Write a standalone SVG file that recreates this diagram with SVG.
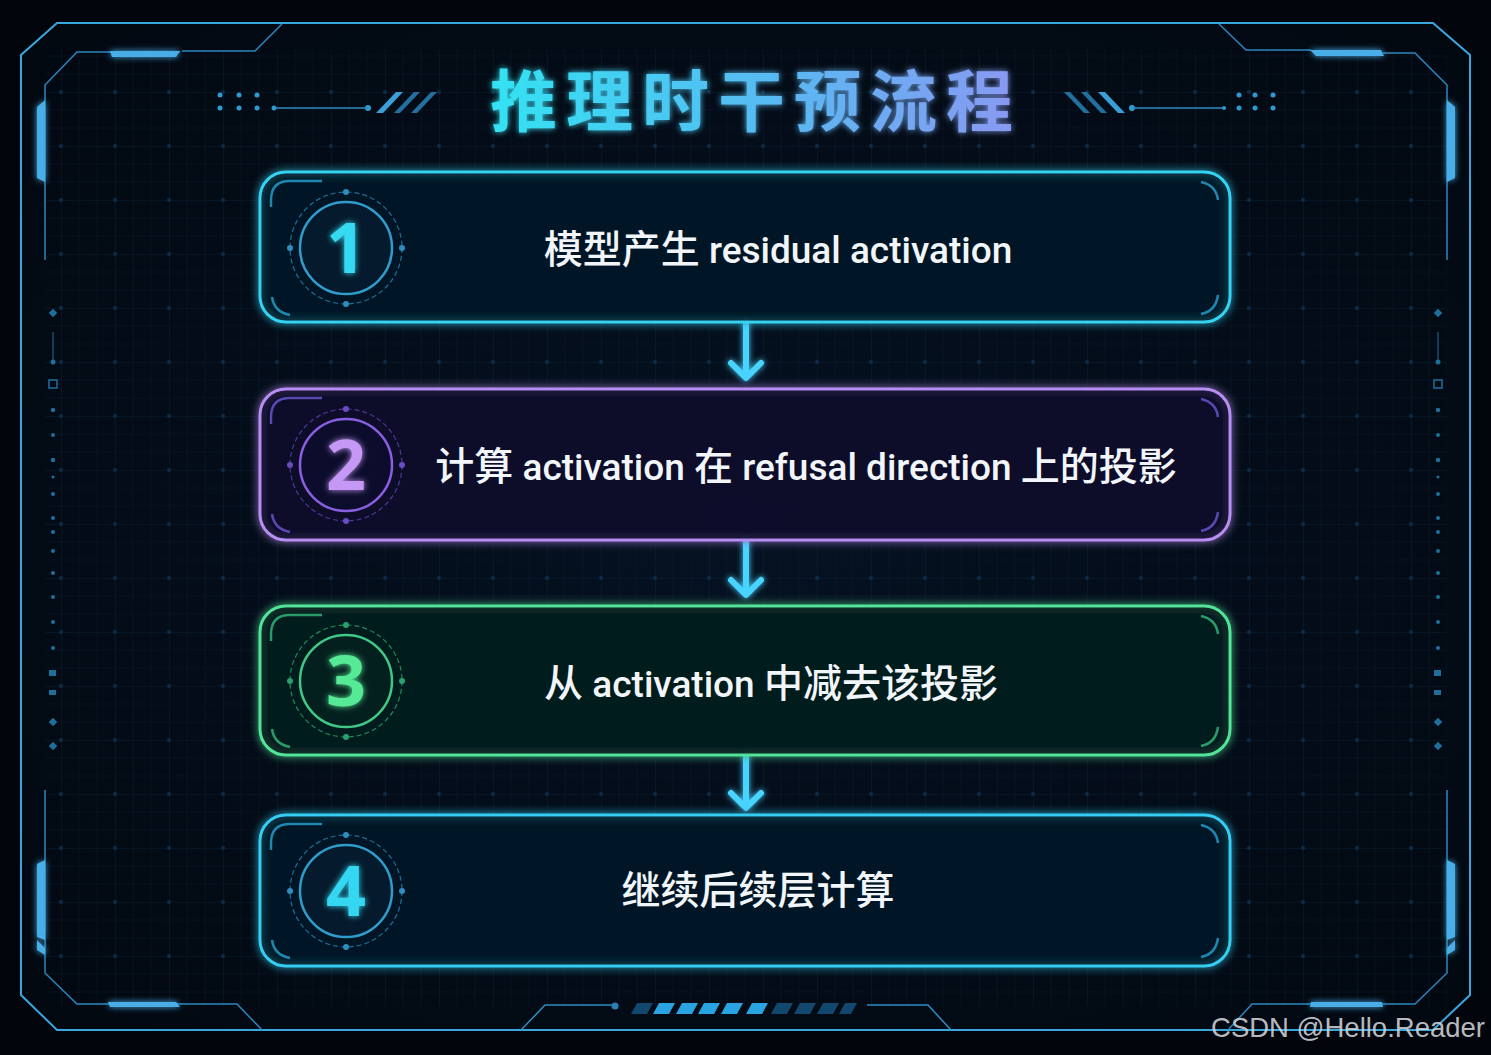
<svg xmlns="http://www.w3.org/2000/svg" width="1491" height="1055" viewBox="0 0 1491 1055">
<defs>
<style>
.frame{fill:none;stroke:#3aa6de;stroke-width:2}
.frame2{fill:none;stroke:#2b86bf;stroke-width:1.5}
.bar{fill:#4aaee8}
.deco{fill:#2f9bd0}
.decoline{stroke:#2f8cc0;stroke-width:1.5;fill:none}
.ntext{font-family:"Roboto","Noto Sans CJK SC",sans-serif;font-size:37px;font-weight:500;fill:#f2f6fa;text-anchor:middle}
.cj{font-family:"Noto Sans CJK SC",sans-serif;font-size:39px;font-weight:500}
.num{font-family:"Noto Sans","Liberation Sans",sans-serif;font-size:70px;font-weight:700;text-anchor:middle}
.arrow{fill:none;stroke:#48d4ff;stroke-width:6;stroke-linecap:round;stroke-linejoin:round}
.sdot{fill:#1f6f9c}
</style>
<linearGradient id="title" x1="0" x2="1" y1="0" y2="0">
<stop offset="0" stop-color="#33e2f2"/><stop offset="0.55" stop-color="#5ab8f2"/><stop offset="1" stop-color="#8a98f2"/>
</linearGradient>
<radialGradient id="bg" cx="0.5" cy="0.5" r="0.7">
<stop offset="0" stop-color="#051222"/><stop offset="1" stop-color="#020810"/>
</radialGradient>
<pattern id="grid" x="7" y="38" width="54" height="54" patternUnits="userSpaceOnUse">
<path d="M0 0H54M0 0V54" stroke="#0c2338" stroke-width="1" fill="none"/>
<path d="M0 18H54M0 36H54M18 0V54M36 0V54" stroke="#08182a" stroke-width="0.6" fill="none"/>
<circle cx="0" cy="0" r="2" fill="#0f3050"/><circle cx="54" cy="0" r="2" fill="#0f3050"/><circle cx="0" cy="54" r="2" fill="#0f3050"/><circle cx="54" cy="54" r="2" fill="#0f3050"/>
</pattern>
<filter id="glow" x="-10%" y="-30%" width="120%" height="160%">
<feGaussianBlur stdDeviation="4" result="b"/>
<feMerge><feMergeNode in="b"/><feMergeNode in="SourceGraphic"/></feMerge>
</filter>
<filter id="glowS" x="-50%" y="-50%" width="200%" height="200%">
<feGaussianBlur stdDeviation="3" result="b"/>
<feMerge><feMergeNode in="b"/><feMergeNode in="SourceGraphic"/></feMerge>
</filter>
</defs>

<rect width="1491" height="1055" fill="#02060c"/>
<path d="M57 23H1433L1470 55V995L1433 1030H57L21 995V55Z" fill="url(#bg)"/>
<rect x="45" y="50" width="1402" height="956" fill="url(#grid)" opacity="0.85"/>

<g id="frame">
<path class="frame" d="M57 23H1433L1470 55V995L1433 1030H57L21 995V55Z"/>
<path class="frame2" d="M45 260V85L77 52H180M182 51H255L282 24"/>
<path class="frame2" d="M1447 260V85L1415 53H1383M1311 50H1246L1219 24"/>
<path class="frame2" d="M45 790V973L77 1004H237L262 1030"/>
<path class="frame2" d="M1447 790V973L1415 1004H1252L1228 1030"/>
<g filter="url(#glowS)">
<path class="bar" d="M110 51H180L176 57H112Z"/>
<path class="bar" d="M1310 50H1381L1384 56H1316Z"/>
<path class="bar" d="M108 1002H176L180 1007H110Z"/>
<path class="bar" d="M1311 1002H1382L1383 1007H1310Z"/>
<path class="bar" d="M45 100L37 107V178L45 182Z"/>
<path class="bar" d="M1447 100L1455 107V178L1447 182Z"/>
<path class="bar" d="M45 860L37 864V937L45 940Z"/>
<path class="bar" d="M37 940L45 948V955L37 950Z"/>
<path class="bar" d="M1447 860L1455 864V937L1447 940Z"/>
<path class="bar" d="M1455 940L1447 948V955L1455 950Z"/>
</g>
</g>

<g id="title-deco">
<g class="deco">
<circle cx="220" cy="95" r="2.5"/><circle cx="239" cy="95" r="2.5"/><circle cx="257" cy="95" r="2.5"/>
<circle cx="220" cy="108" r="2.5"/><circle cx="239" cy="108" r="2.5"/><circle cx="257" cy="108" r="2.5"/>
<circle cx="274" cy="108" r="2.5"/><circle cx="368" cy="108" r="3"/>
<circle cx="1239" cy="95" r="2.5"/><circle cx="1255" cy="95" r="2.5"/><circle cx="1273" cy="95" r="2.5"/>
<circle cx="1239" cy="108" r="2.5"/><circle cx="1255" cy="108" r="2.5"/><circle cx="1273" cy="108" r="2.5"/>
<circle cx="1132" cy="108" r="3"/><circle cx="1224" cy="108" r="2"/>
</g>
<path class="decoline" d="M274 108H368M1132 108H1224"/>
<path d="M376 113L396 92H403L383 113Z" fill="#3a9fd8"/>
<path d="M394 113L414 92H420L400 113Z" fill="#236f9e"/>
<path d="M411 113L431 92H437L417 113Z" fill="#236f9e"/>
<path d="M1125 113L1105 92H1098L1118 113Z" fill="#3a9fd8"/>
<path d="M1107 113L1087 92H1081L1101 113Z" fill="#236f9e"/>
<path d="M1090 113L1070 92H1064L1084 113Z" fill="#236f9e"/>
</g>

<g id="title">
<text x="756" y="126" font-family="Noto Sans CJK SC,sans-serif" font-size="67" font-weight="700" letter-spacing="9" text-anchor="middle" fill="url(#title)" filter="url(#glowS)">推理时干预流程</text>
</g>

<g id="side-dots">
<g class="sdot">
<rect x="50" y="310" width="6" height="6" transform="rotate(45 53 313)"/>
<rect x="52.5" y="332" width="1" height="29"/>
<circle cx="53" cy="362" r="2.5"/>
<rect x="49" y="380" width="8" height="8" fill="none" stroke="#1f6f9c" stroke-width="1.5"/>
<circle cx="53" cy="410" r="2.2"/><circle cx="53" cy="435" r="2"/><circle cx="53" cy="460" r="2.2"/><circle cx="53" cy="477" r="1.5"/><circle cx="53" cy="494" r="2"/><circle cx="53" cy="518" r="2"/><circle cx="53" cy="532" r="2"/><circle cx="53" cy="551" r="2"/><circle cx="53" cy="573" r="2"/><circle cx="53" cy="597" r="2"/><circle cx="53" cy="622" r="2"/><circle cx="53" cy="648" r="2"/>
<rect x="49" y="670" width="7" height="6"/>
<rect x="49" y="690" width="7" height="5"/>
<rect x="50" y="719" width="6" height="6" transform="rotate(45 53 722)"/>
<rect x="50" y="743" width="6" height="6" transform="rotate(45 53 746)"/>
<rect x="1435" y="310" width="6" height="6" transform="rotate(45 1438 313)"/>
<rect x="1437.5" y="332" width="1" height="29"/>
<circle cx="1438" cy="362" r="2.5"/>
<rect x="1434" y="380" width="8" height="8" fill="none" stroke="#1f6f9c" stroke-width="1.5"/>
<circle cx="1438" cy="410" r="2.2"/><circle cx="1438" cy="435" r="2"/><circle cx="1438" cy="460" r="2.2"/><circle cx="1438" cy="477" r="1.5"/><circle cx="1438" cy="494" r="2"/><circle cx="1438" cy="518" r="2"/><circle cx="1438" cy="532" r="2"/><circle cx="1438" cy="551" r="2"/><circle cx="1438" cy="573" r="2"/><circle cx="1438" cy="597" r="2"/><circle cx="1438" cy="622" r="2"/><circle cx="1438" cy="648" r="2"/>
<rect x="1434" y="670" width="7" height="6"/>
<rect x="1434" y="690" width="7" height="5"/>
<rect x="1435" y="719" width="6" height="6" transform="rotate(45 1438 722)"/>
<rect x="1435" y="743" width="6" height="6" transform="rotate(45 1438 746)"/>
</g>
</g>

<g id="bottom-deco">
<path class="decoline" d="M521 1030L545 1005H615M867 1005H928L951 1030"/>
<circle cx="615" cy="1006" r="3.5" fill="#2a7fb5"/>
<path d="M637 1003H653L647 1014H631Z" fill="#12486e"/>
<path d="M659 1003H675L669 1014H653Z" fill="#2aa4e0"/>
<path d="M682 1003H698L692 1014H676Z" fill="#2aa4e0"/>
<path d="M704 1003H720L714 1014H698Z" fill="#2aa4e0"/>
<path d="M727 1003H743L737 1014H721Z" fill="#2aa4e0"/>
<path d="M752 1003H768L762 1014H746Z" fill="#2aa4e0"/>
<path d="M777 1003H793L787 1014H771Z" fill="#12486e"/>
<path d="M800 1003H816L810 1014H794Z" fill="#12486e"/>
<path d="M823 1003H839L833 1014H817Z" fill="#12486e"/>
<path d="M845 1003H857L851 1014H839Z" fill="#12486e"/>
</g>

<g id="connectors" filter="url(#glowS)">
<path class="arrow" d="M746 321V377M731 363L746 378L761 363"/>
<path class="arrow" d="M746 538V594M731 580L746 595L761 580"/>
<path class="arrow" d="M746 751V807M731 793L746 808L761 793"/>
</g>

<g id="node1">
<rect x="260" y="172" width="970" height="150" rx="26" fill="#041626" fill-opacity="0.85" stroke="#34d2f2" stroke-width="3" filter="url(#glow)"/>
<path d="M271 207V200Q271 181 290 181H322M272 297Q274 312 290 315M1218 200Q1216 185 1201 182M1218 295Q1216 311 1201 314" fill="none" stroke="#1f86b0" stroke-width="2.5"/>
<circle cx="346" cy="248" r="56" fill="none" stroke="#1e6f98" stroke-width="1.2" stroke-dasharray="5 3"/>
<circle cx="346" cy="248" r="46" fill="#051a2c" stroke="#2f9ccc" stroke-width="2.5"/>
<g fill="#2f8cbc"><circle cx="346" cy="192" r="3"/><circle cx="346" cy="304" r="3"/><circle cx="290" cy="248" r="3"/><circle cx="402" cy="248" r="3"/></g>
<text class="num" x="346" y="273" fill="#36daf2" filter="url(#glowS)">1</text>
<text class="ntext" x="778" y="263"><tspan class="cj">模型产生</tspan> residual activation</text>
</g>

<g id="node2">
<rect x="260" y="389" width="970" height="151" rx="26" fill="#0a0c2a" fill-opacity="0.9" stroke="#b88ef2" stroke-width="3" filter="url(#glow)"/>
<path d="M271 424V417Q271 398 290 398H322M272 514Q274 529 290 532M1218 417Q1216 402 1201 399M1218 512Q1216 528 1201 531" fill="none" stroke="#5a48b0" stroke-width="2.5"/>
<circle cx="346" cy="465" r="56" fill="none" stroke="#4a3a98" stroke-width="1.2" stroke-dasharray="5 3"/>
<circle cx="346" cy="465" r="46" fill="#0c0c2c" stroke="#8a5ee0" stroke-width="2.5"/>
<g fill="#6a4cc0"><circle cx="346" cy="409" r="3"/><circle cx="346" cy="521" r="3"/><circle cx="290" cy="465" r="3"/><circle cx="402" cy="465" r="3"/></g>
<text class="num" x="346" y="490" fill="#c498f4" filter="url(#glowS)">2</text>
<text class="ntext" x="806" y="480"><tspan class="cj">计算</tspan> activation <tspan class="cj">在</tspan> refusal direction <tspan class="cj">上的投影</tspan></text>
</g>

<g id="node3">
<rect x="260" y="606" width="970" height="149" rx="26" fill="#041a1e" fill-opacity="0.9" stroke="#52e49a" stroke-width="3" filter="url(#glow)"/>
<path d="M271 641V634Q271 615 290 615H322M272 729Q274 744 290 747M1218 634Q1216 619 1201 616M1218 727Q1216 743 1201 746" fill="none" stroke="#2a9a68" stroke-width="2.5"/>
<circle cx="346" cy="681" r="56" fill="none" stroke="#1f8a5a" stroke-width="1.2" stroke-dasharray="5 3"/>
<circle cx="346" cy="681" r="46" fill="#04201e" stroke="#40c886" stroke-width="2.5"/>
<g fill="#2aa070"><circle cx="346" cy="625" r="3"/><circle cx="346" cy="737" r="3"/><circle cx="290" cy="681" r="3"/><circle cx="402" cy="681" r="3"/></g>
<text class="num" x="346" y="706" fill="#56ea96" filter="url(#glowS)">3</text>
<text class="ntext" x="771" y="697"><tspan class="cj">从</tspan> activation <tspan class="cj">中减去该投影</tspan></text>
</g>

<g id="node4">
<rect x="260" y="815" width="970" height="151" rx="26" fill="#041626" fill-opacity="0.85" stroke="#34cdf2" stroke-width="3" filter="url(#glow)"/>
<path d="M271 850V843Q271 824 290 824H322M272 940Q274 955 290 958M1218 843Q1216 828 1201 825M1218 938Q1216 954 1201 957" fill="none" stroke="#1f86b0" stroke-width="2.5"/>
<circle cx="346" cy="891" r="56" fill="none" stroke="#1e6f98" stroke-width="1.2" stroke-dasharray="5 3"/>
<circle cx="346" cy="891" r="46" fill="#051a2c" stroke="#2f9ccc" stroke-width="2.5"/>
<g fill="#2f8cbc"><circle cx="346" cy="835" r="3"/><circle cx="346" cy="947" r="3"/><circle cx="290" cy="891" r="3"/><circle cx="402" cy="891" r="3"/></g>
<text class="num" x="346" y="916" fill="#36d6f2" filter="url(#glowS)">4</text>
<text class="ntext" x="758" y="904"><tspan class="cj">继续后续层计算</tspan></text>
</g>

<text x="1485" y="1037" font-family="Liberation Sans,Arial,sans-serif" font-size="27.5" fill="#cfd3d8" fill-opacity="0.9" text-anchor="end">CSDN @Hello.Reader</text>
</svg>
